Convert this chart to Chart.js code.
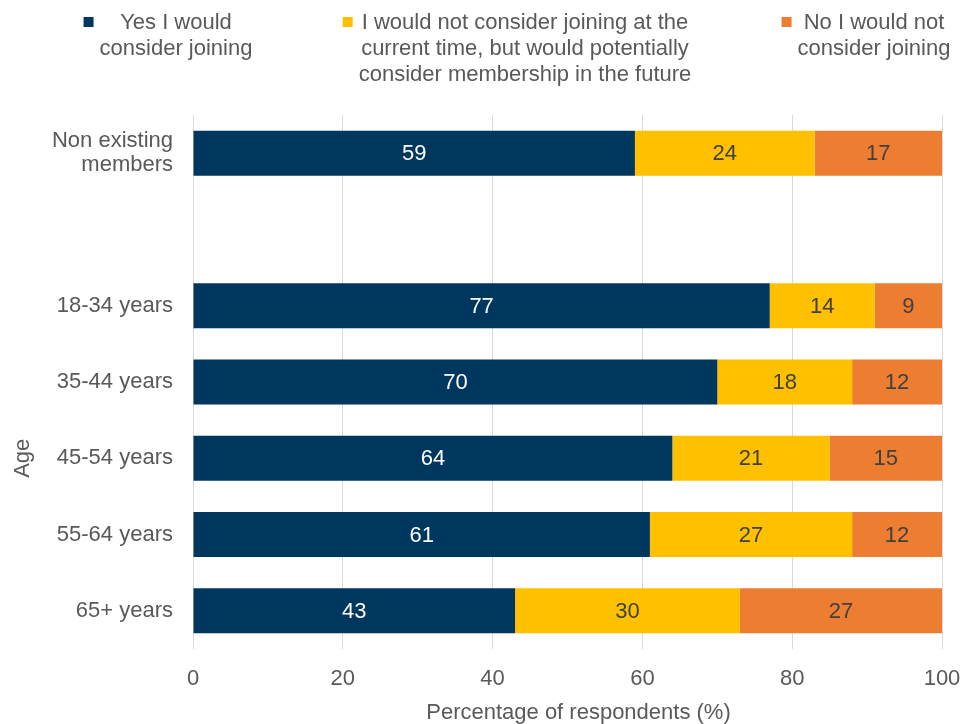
<!DOCTYPE html>
<html>
<head>
<meta charset="utf-8">
<script src="https://cdn.jsdelivr.net/npm/chart.js@4.4.0/dist/chart.umd.min.js"></script>
<style>
  body { margin: 0; background: #fff; }
  #wrap { width: 963px; height: 724px; }
</style>
</head>
<body>
<div id="wrap"><canvas id="chart_1" width="963" height="724"></canvas></div>
<script>
// data
const categories = [['Non existing', 'members'], '', '18-34 years', '35-44 years', '45-54 years', '55-64 years', '65+ years'];
const yesJoin = [59, null, 77, 70, 64, 61, 43];
const notNow = [24, null, 14, 18, 21, 27, 30];
const noJoin = [17, null, 9, 12, 15, 12, 27];
const seriesNames = [
    ['Yes I would', 'consider joining'],
    ['I would not consider joining at the', 'current time, but would potentially', 'consider membership in the future'],
    ['No I would not', 'consider joining']
];
const xTicks = [0, 20, 40, 60, 80, 100];

const colors = ['#00375f', '#ffc000', '#ed7d31'];
const labelColors = ['#ffffff', '#404040', '#404040'];
const textGray = '#595959';
const fontFam = "'Liberation Sans', Arial, sans-serif";

const chart_1 = document.getElementById("chart_1").getContext("2d");

// values in the middle of each segment
const valueLabels = {
    id: 'valueLabels',
    afterDatasetsDraw(chart) {
        const ctx = chart.ctx;
        ctx.save();
        ctx.font = '22px ' + fontFam;
        ctx.textAlign = 'center';
        ctx.textBaseline = 'middle';
        chart.data.datasets.forEach((ds, i) => {
            chart.getDatasetMeta(i).data.forEach((bar, j) => {
                const v = ds.data[j];
                if (v == null) return;
                const p = bar.getCenterPoint();
                ctx.fillStyle = labelColors[i];
                ctx.fillText(String(v), p.x, p.y + 1);
            });
        });
        ctx.restore();
    }
};

// legend on top, x title, and the "Age" title over the age groups
const extras = {
    id: 'extras',
    afterDraw(chart) {
        const ctx = chart.ctx;
        const area = chart.chartArea;
        ctx.save();
        ctx.font = '22px ' + fontFam;
        ctx.textBaseline = 'middle';
        ctx.textAlign = 'center';
        const centers = [176, 525, 874];
        seriesNames.forEach((lines, i) => {
            const w = Math.max(...lines.map(l => ctx.measureText(l).width));
            const left = centers[i] - w / 2;
            ctx.fillStyle = colors[i];
            ctx.fillRect(left - 16, 17, 10, 10);
            ctx.fillStyle = textGray;
            lines.forEach((l, k) => ctx.fillText(l, centers[i], 23 + k * 26));
        });

        ctx.fillText('Percentage of respondents (%)', (area.left + area.right) / 2 + 11, 713);

        const y = chart.scales.y;
        const yc = (y.getPixelForValue(2) + y.getPixelForValue(categories.length - 1)) / 2;
        ctx.translate(23, yc);
        ctx.rotate(-Math.PI / 2);
        ctx.fillText('Age', 0, 0);
        ctx.restore();
    }
};

const mk = (i, data) => ({
    label: seriesNames[i].join(' '),
    data: data,
    backgroundColor: colors[i],
    borderWidth: 0,
    barPercentage: 0.59,
    categoryPercentage: 1
});

new Chart(chart_1, {
    type: 'bar',
    data: {
        labels: categories,
        datasets: [mk(0, yesJoin), mk(1, notNow), mk(2, noJoin)]
    },
    options: {
        indexAxis: 'y',
        responsive: false,
        animation: false,
        layout: { padding: { top: 115, right: 21, left: 0, bottom: 0 } },
        plugins: {
            legend: { display: false },
            tooltip: { enabled: false }
        },
        scales: {
            x: {
                stacked: true,
                min: 0,
                max: 100,
                afterBuildTicks: s => { s.ticks = xTicks.map(v => ({ value: v })); },
                grid: { color: '#d9d9d9', drawTicks: false },
                border: { display: false },
                ticks: { color: textGray, font: { family: fontFam, size: 22 }, padding: 17 },
                afterFit: s => { s.height = 75; s.paddingLeft = 0; s.paddingRight = 0; }
            },
            y: {
                stacked: true,
                grid: { display: false, drawTicks: false },
                border: { display: false },
                ticks: { color: textGray, font: { family: fontFam, size: 22, lineHeight: 1.1 }, padding: 20 },
                afterFit: s => { s.width = 193; }
            }
        }
    },
    plugins: [valueLabels, extras]
});
</script>
</body>
</html>
